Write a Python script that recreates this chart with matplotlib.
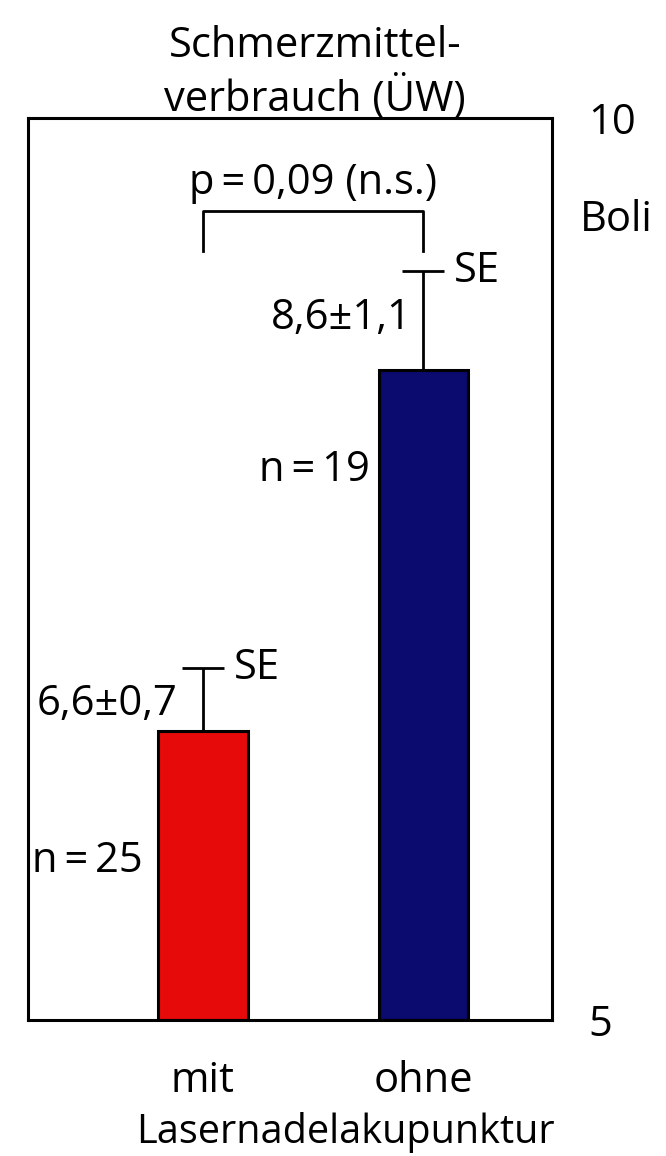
import numpy as np
import matplotlib.pyplot as plt

plt.rcParams['font.family'] = ['Open Sans', 'DejaVu Sans']

# Schmerzmittelverbrauch mit / ohne Lasernadelakupunktur
gruppen = ['mit', 'ohne']
mittel = [6.6, 8.6]
se = [0.7, 1.1]
n = [25, 19]
farben = ['#e60a0a', '#0b0a6e']
p_wert = '0,09'

# Fehlerbalken als halber SE gezeichnet
fehler = np.array(se) / 2

fig = plt.figure(figsize=(6.66, 11.56), dpi=100)
ax = fig.add_axes([0.042, 0.1176, 0.787, 0.7805])

x = np.arange(len(gruppen))
ax.bar(x, np.array(mittel) - 5, bottom=5, width=0.405, color=farben,
       edgecolor='black', linewidth=2.2, zorder=2)
ax.errorbar(x, mittel, yerr=[np.zeros(2), fehler], fmt='none', ecolor='black',
            elinewidth=2, capsize=15, capthick=2, zorder=1)

fs = 30
thin = '\u2009'
# Beschriftungspositionen (x-Versatz, y) je Balken
pos_wert = [(-0.118, 6.75), (-0.05, 8.89)]
pos_n = [(-0.273, 5.88), (-0.24, 8.05)]
for i in range(len(gruppen)):
    top = mittel[i] + fehler[i]
    ax.text(x[i] + 0.14, top, 'SE', fontsize=fs, ha='left', va='center')
    wert = '%s±%s' % (str(mittel[i]).replace('.', ','), str(se[i]).replace('.', ','))
    ax.text(x[i] + pos_wert[i][0], pos_wert[i][1], wert,
            fontsize=fs, ha='right', va='center')
    ax.text(x[i] + pos_n[i][0], pos_n[i][1], 'n' + thin + '=' + thin + str(n[i]),
            fontsize=fs, ha='right', va='center')

# Signifikanzklammer
ax.plot([0, 0, 1, 1], [9.26, 9.485, 9.485, 9.26], color='black', lw=2)
ax.text(0.5, 9.64, 'p' + thin + '=' + thin + p_wert + ' (n.s.)', fontsize=fs,
        ha='center', va='center')

ax.set_xlim(-0.795, 1.586)
ax.set_ylim(5, 10)
ax.set_xticks([])
ax.yaxis.tick_right()
ax.set_yticks([5, 10])
ax.set_yticklabels(['5', '10'], fontsize=fs)
ax.tick_params(axis='y', length=0, pad=26)
for s in ax.spines.values():
    s.set_linewidth(2.2)

ax.text(1.053, 0.887, 'Boli', transform=ax.transAxes, fontsize=fs,
        ha='left', va='center')
ax.text(0.548, 0.997, 'Schmerzmittel-\nverbrauch (ÜW)', transform=ax.transAxes,
        fontsize=fs, ha='center', va='bottom', linespacing=1.2)
for i, g in enumerate(gruppen):
    ax.text(x[i], 4.66, g, fontsize=fs, ha='center', va='center')
ax.text(0.605, -0.125, 'Lasernadelakupunktur', transform=ax.transAxes,
        fontsize=28.5, ha='center', va='center')

fig.savefig('out.png', dpi=100)
